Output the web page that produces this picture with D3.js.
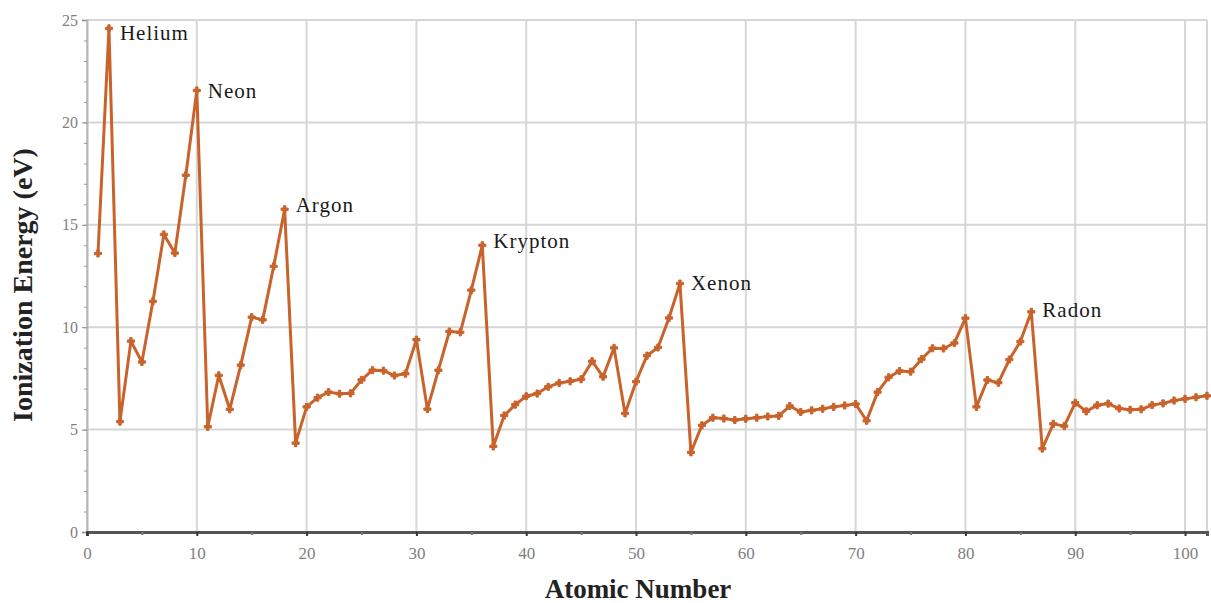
<!DOCTYPE html>
<html>
<head>
<meta charset="utf-8">
<script src="https://cdn.jsdelivr.net/npm/d3@7"></script>
<style>
  body { margin: 0; background: #fff; }
  text { font-family: "Liberation Serif", "DejaVu Serif", serif; }
</style>
</head>
<body>
<div id="chart"></div>
<script>
// 第一电离能 (eV)，原子序数 1..102
var atomicNumbers = d3.range(1, 103);
var energies = [
    13.6, 24.59, 5.39, 9.32, 8.3, 11.26, 14.53, 13.62, 17.42, 21.56,
    5.14, 7.65, 5.99, 8.15, 10.49, 10.36, 12.97, 15.76, 4.34, 6.11,
    6.56, 6.83, 6.75, 6.77, 7.43, 7.9, 7.88, 7.64, 7.73, 9.39,
    6.0, 7.9, 9.79, 9.75, 11.81, 14.0, 4.18, 5.69, 6.22, 6.63,
    6.76, 7.09, 7.28, 7.36, 7.46, 8.34, 7.58, 8.99, 5.79, 7.34,
    8.61, 9.01, 10.45, 12.13, 3.89, 5.21, 5.58, 5.54, 5.47, 5.53,
    5.58, 5.64, 5.67, 6.15, 5.86, 5.94, 6.02, 6.11, 6.18, 6.25,
    5.43, 6.83, 7.55, 7.86, 7.83, 8.44, 8.97, 8.96, 9.23, 10.44,
    6.11, 7.42, 7.29, 8.42, 9.3, 10.75, 4.07, 5.28, 5.17, 6.31,
    5.89, 6.19, 6.27, 6.03, 5.97, 5.99, 6.2, 6.28, 6.42, 6.5,
    6.58, 6.65
];
var nobleGases = ["Helium", "Neon", "Argon", "Krypton", "Xenon", "Radon"];
var nobleNumbers = [2, 10, 18, 36, 54, 86];
var xTicks = [0, 10, 20, 30, 40, 50, 60, 70, 80, 90, 100];
var yTicks = [0, 5, 10, 15, 20, 25];

//标注文字相对数据点的竖直偏移
var labelDy = [12, 8, 3, 3, 6, 5];

var width = 1211, height = 603;
var margin = {top: 20, right: 4, bottom: 71, left: 87};
var lineColor = "#c9632b";
var serif = "Liberation Serif, DejaVu Serif, serif";

var svg = d3.select("#chart").append("svg")
    .attr("width", width)
    .attr("height", height);

var x = d3.scaleLinear()
    .domain([0, 102])
    .range([margin.left, width - margin.right]);
var y = d3.scaleLinear()
    .domain([0, 25])
    .range([height - margin.bottom, margin.top]);

//网格线
var grid = svg.append("g").attr("id", "grid");
grid.selectAll("line.v")
    .data(xTicks.concat([102]))
    .enter()
    .append("line")
    .attr("class", "v")
    .attr("x1", function (d) { return x(d); })
    .attr("x2", function (d) { return x(d); })
    .attr("y1", y(25))
    .attr("y2", y(0))
    .attr("stroke", "#d6d6d6")
    .attr("stroke-width", 2);
grid.selectAll("line.h")
    .data(yTicks)
    .enter()
    .append("line")
    .attr("class", "h")
    .attr("x1", x(0))
    .attr("x2", x(102))
    .attr("y1", function (d) { return y(d); })
    .attr("y2", function (d) { return y(d); })
    .attr("stroke", "#d6d6d6")
    .attr("stroke-width", 2);

//y轴
var yAxis = d3.axisLeft(y).tickValues(yTicks).tickSize(5).tickPadding(4);
var gy = svg.append("g")
    .attr("transform", "translate(" + x(0) + ",0)")
    .call(yAxis)
    .attr("font-family", serif)
    .attr("font-size", 16);
gy.select(".domain").attr("stroke", "#b8b8b8").attr("stroke-width", 2);
gy.selectAll(".tick line").attr("stroke", "#888");
gy.selectAll("text").attr("fill", "#808080");
var yMinor = d3.axisLeft(y).tickValues(d3.range(0, 26, 1)).tickSize(3).tickFormat("");
var gym = svg.append("g")
    .attr("transform", "translate(" + x(0) + ",0)")
    .call(yMinor);
gym.select(".domain").remove();
gym.selectAll(".tick line").attr("stroke", "#999");

//x轴
var xAxis = d3.axisBottom(x).tickValues(xTicks).tickSize(4).tickPadding(11);
var gx = svg.append("g")
    .attr("transform", "translate(0," + y(0) + ")")
    .call(xAxis)
    .attr("font-family", serif)
    .attr("font-size", 17);
gx.select(".domain").attr("stroke", "#555").attr("stroke-width", 3);
gx.selectAll(".tick line").attr("stroke", "#333").attr("stroke-width", 2);
gx.selectAll("text").attr("fill", "#808080");
var xMinor = d3.axisBottom(x).tickValues(d3.range(5, 102, 10)).tickSize(3).tickFormat("");
var gxm = svg.append("g")
    .attr("transform", "translate(0," + y(0) + ")")
    .call(xMinor);
gxm.select(".domain").remove();
gxm.selectAll(".tick line").attr("stroke", "#777").attr("stroke-width", 2);

//折线
var data = atomicNumbers.map(function (n, i) { return {n: n, e: energies[i]}; });
var line = d3.line()
    .x(function (d) { return x(d.n); })
    .y(function (d) { return y(d.e); });
svg.append("path")
    .datum(data)
    .attr("fill", "none")
    .attr("stroke", lineColor)
    .attr("stroke-width", 3)
    .attr("stroke-linejoin", "round")
    .attr("d", line);

//标记点
svg.append("g")
    .selectAll("path")
    .data(data)
    .enter()
    .append("path")
    .attr("transform", function (d) { return "translate(" + x(d.n) + "," + y(d.e) + ")"; })
    .attr("d", d3.symbol().type(d3.symbolCross).size(28))
    .attr("fill", lineColor)
    .attr("stroke", lineColor)
    .attr("stroke-width", 1);

//稀有气体标注
svg.append("g")
    .selectAll("text")
    .data(nobleGases)
    .enter()
    .append("text")
    .attr("x", function (d, i) { return x(nobleNumbers[i]) + 11; })
    .attr("y", function (d, i) { return y(energies[nobleNumbers[i] - 1]) + labelDy[i]; })
    .attr("font-size", 21)
    .attr("letter-spacing", 1)
    .attr("fill", "#1a1a1a")
    .text(function (d) { return d; });

//坐标轴标题
svg.append("text")
    .attr("x", 638)
    .attr("y", 598)
    .attr("text-anchor", "middle")
    .attr("font-size", 27)
    .attr("font-weight", "bold")
    .attr("fill", "#222")
    .text("Atomic Number");
svg.append("text")
    .attr("transform", "translate(32,285) rotate(-90)")
    .attr("text-anchor", "middle")
    .attr("font-size", 28)
    .attr("font-weight", "bold")
    .attr("fill", "#222")
    .text("Ionization Energy (eV)");
</script>
</body>
</html>
